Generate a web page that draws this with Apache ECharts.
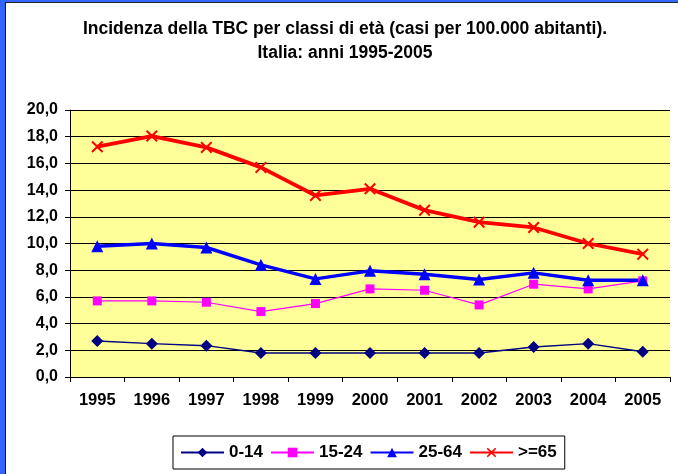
<!DOCTYPE html>
<html>
<head>
<meta charset="utf-8">
<script src="https://cdn.jsdelivr.net/npm/echarts@6/dist/echarts.min.js"></script>
<style>
html,body{margin:0;padding:0;background:#fff;}
#c{width:678px;height:474px;}
</style>
</head>
<body>
<div id="c"></div>
<script>
var years = ['1995','1996','1997','1998','1999','2000','2001','2002','2003','2004','2005'];
var age0_14  = [2.7, 2.5, 2.35, 1.8, 1.8, 1.8, 1.8, 1.8, 2.25, 2.5, 1.9];
var age15_24 = [5.7, 5.7, 5.6, 4.9, 5.5, 6.6, 6.5, 5.4, 6.95, 6.6, 7.2];
var age25_64 = [9.8, 10.0, 9.7, 8.4, 7.35, 7.95, 7.7, 7.3, 7.8, 7.25, 7.25];
var age65    = [17.25, 18.05, 17.2, 15.7, 13.6, 14.1, 12.5, 11.6, 11.2, 10.0, 9.2];
var seriesNames = ['0-14', '15-24', '25-64', '>=65'];
var yTicks = [0, 2, 4, 6, 8, 10, 12, 14, 16, 18, 20];

var FONT = '"Liberation Sans", Arial, sans-serif';
var crossPath = 'path://M0,1.2 L1.2,0 L5,3.8 L8.8,0 L10,1.2 L6.2,5 L10,8.8 L8.8,10 L5,6.2 L1.2,10 L0,8.8 L3.8,5 Z';

var chart = echarts.init(document.getElementById('c'), null, {renderer: 'canvas'});
chart.setOption({
  animation: false,
  backgroundColor: '#ffffff',
  graphic: [
    {type: 'rect', shape: {x: 0, y: 0, width: 678, height: 2}, style: {fill: '#3366FF'}, z: 100},
    {type: 'rect', shape: {x: 0, y: 0, width: 5, height: 474}, style: {fill: '#3366FF'}, z: 100},
    {type: 'rect', shape: {x: 5, y: 2, width: 673, height: 1}, style: {fill: '#222'}, z: 100},
    {type: 'rect', shape: {x: 5, y: 2, width: 1, height: 472}, style: {fill: '#111'}, z: 100}
  ],
  title: {
    text: 'Incidenza della TBC per classi di età (casi per 100.000 abitanti).\nItalia: anni 1995-2005',
    left: 345, top: 17, textAlign: 'center', padding: 0,
    textStyle: {fontFamily: FONT, fontWeight: 'bold', fontSize: 17.5, color: '#000', lineHeight: 24}
  },
  grid: {left: 70, right: 8, top: 110, bottom: 97, show: true, backgroundColor: '#FFFF99', borderWidth: 0},
  legend: {
    left: 173, top: 436,
    data: [
      {name: seriesNames[0]}, {name: seriesNames[1]}, {name: seriesNames[2]}, {name: seriesNames[3]}
    ],
    itemWidth: 43, itemHeight: 12, itemGap: 7,
    padding: [8, 8, 8, 7],
    borderColor: '#000', borderWidth: 1,
    textStyle: {fontFamily: FONT, fontWeight: 'bold', fontSize: 17, color: '#000'}
  },
  xAxis: {
    type: 'category', data: years, boundaryGap: true,
    axisLine: {lineStyle: {color: '#000', width: 1}},
    axisTick: {show: true, length: 5, lineStyle: {color: '#000'}},
    axisLabel: {fontFamily: FONT, fontWeight: 'bold', fontSize: 16.5, color: '#000', margin: 15}
  },
  yAxis: {
    type: 'value', min: yTicks[0], max: yTicks[yTicks.length - 1], interval: 2,
    axisLine: {show: true, lineStyle: {color: '#000', width: 1}},
    axisTick: {show: true, length: 5, lineStyle: {color: '#000'}},
    splitLine: {show: true, lineStyle: {color: '#000', width: 1}},
    axisLabel: {
      fontFamily: FONT, fontWeight: 'bold', fontSize: 16, color: '#000', margin: 12,
      formatter: function (v) { return v.toFixed(1).replace('.', ','); }
    }
  },
  series: [
    {
      name: seriesNames[0], type: 'line', data: age0_14,
      symbol: 'diamond', symbolSize: 12,
      lineStyle: {color: '#000080', width: 1.5},
      itemStyle: {color: '#000080'}
    },
    {
      name: seriesNames[1], type: 'line', data: age15_24,
      symbol: 'rect', symbolSize: 9,
      lineStyle: {color: '#FF00FF', width: 1.2},
      itemStyle: {color: '#FF00FF'}
    },
    {
      name: seriesNames[2], type: 'line', data: age25_64,
      symbol: 'triangle', symbolSize: 12,
      lineStyle: {color: '#0000FF', width: 3.5},
      itemStyle: {color: '#0000FF'}
    },
    {
      name: seriesNames[3], type: 'line', data: age65,
      symbol: crossPath, symbolSize: 12,
      lineStyle: {color: '#FF0000', width: 3.8},
      itemStyle: {color: '#FF0000'}
    }
  ]
});
</script>
</body>
</html>
